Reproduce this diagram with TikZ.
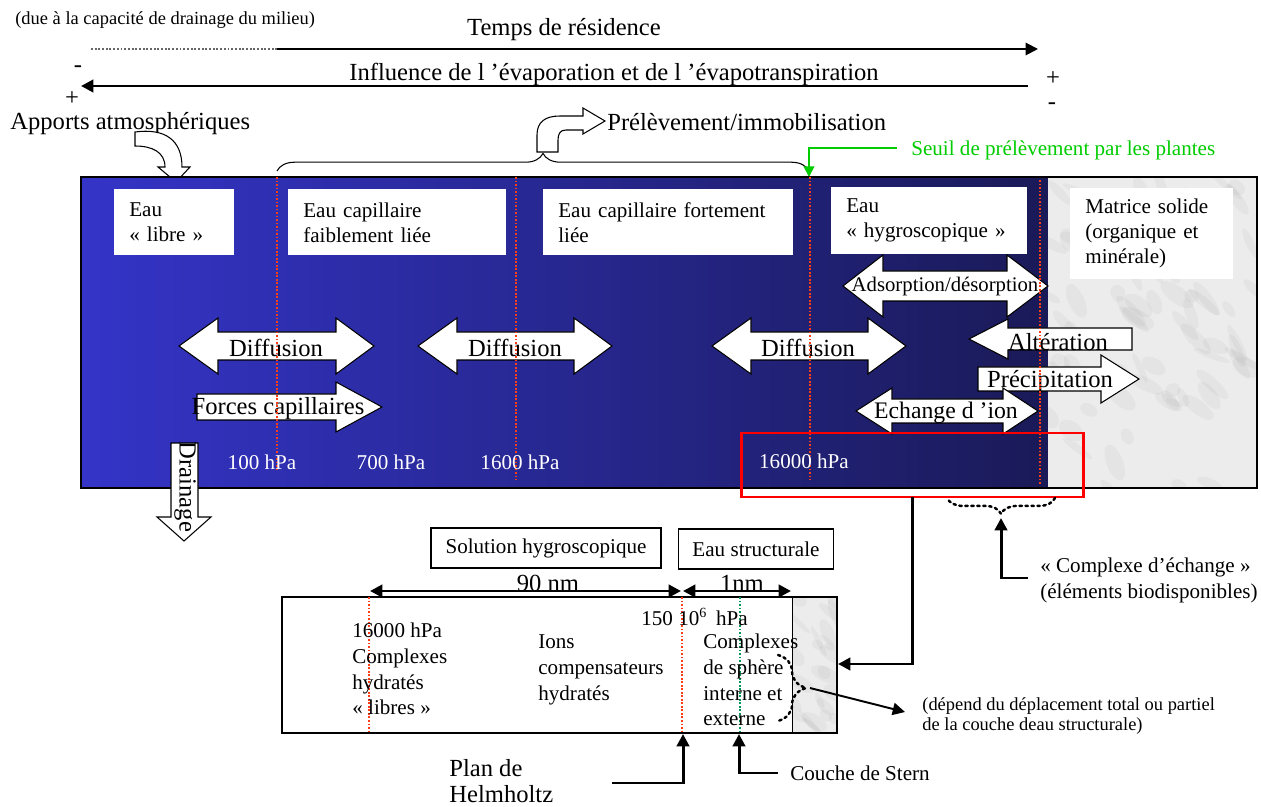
\documentclass[tikz,border=0pt]{standalone}
\usepackage{fontspec}
\setmainfont{Liberation Serif}
\usetikzlibrary{arrows.meta,decorations.pathreplacing}

\definecolor{bluel}{RGB}{52,52,200}
\definecolor{bluem}{RGB}{40,40,158}
\definecolor{bluer}{RGB}{26,26,88}
\definecolor{redsep}{RGB}{255,60,20}
\definecolor{seuilgreen}{RGB}{0,204,0}
\definecolor{sterngreen}{RGB}{0,150,90}
\definecolor{marble}{RGB}{236,236,236}

\tikzset{
  blockarrow/.style={draw=black, fill=white, line width=0.6pt, line join=miter},
  txtbig/.style={font=\fontsize{14}{16}\selectfont, inner sep=0},
  txtmid/.style={font=\fontsize{12}{14.7}\selectfont, inner sep=0, align=left},
  txtsmall/.style={font=\fontsize{10.5}{11.5}\selectfont, inner sep=0, align=left},
  wbox/.style={fill=white, inner xsep=0.3cm, inner ysep=0, anchor=north west, align=left, font=\fontsize{12}{14.2}\selectfont},
  tbox/.style={draw, line width=0.8pt, fill=white, font=\fontsize{12}{14}\selectfont},
  sepline/.style={draw=redsep, densely dotted, line width=1pt},
  fatarrow/.style={line width=1.7pt, -{Triangle[length=7pt,width=7pt]}},
  dotbrace/.style={line width=1.4pt, dotted, line cap=round, decorate},
  cloud/.style={black!50, opacity=0.07},
}

% tip L : back L : back R : tip R, y : half shaft : half head
\def\twoway(#1:#2:#3:#4)(#5:#6:#7){\draw[blockarrow] (#1,#5) -- (#2,#5-#7) -- (#2,#5-#6) -- (#3,#5-#6) -- (#3,#5-#7) -- (#4,#5) -- (#3,#5+#7) -- (#3,#5+#6) -- (#2,#5+#6) -- (#2,#5+#7) -- cycle;}
\def\rightway(#1:#2:#3)(#4:#5:#6){\draw[blockarrow] (#1,#4-#5) -- (#2,#4-#5) -- (#2,#4-#6) -- (#3,#4) -- (#2,#4+#6) -- (#2,#4+#5) -- (#1,#4+#5) -- cycle;}
\def\leftway(#1:#2:#3)(#4:#5:#6){\draw[blockarrow] (#1,#4) -- (#2,#4-#6) -- (#2,#4-#5) -- (#3,#4-#5) -- (#3,#4+#5) -- (#2,#4+#5) -- (#2,#4+#6) -- cycle;}

\begin{document}
\begin{tikzpicture}[x=0.02cm, y=-0.02cm]
		%%%%% START %%%%%
		\useasboundingbox (0,0) rectangle (1261,807);
		\pgfmathsetseed{5}
		
		\node[txtsmall, anchor=west] (capacite) at (15,20) {(due à la capacité de drainage du milieu)};
		\node[txtbig] (temps) at (564,30) {Temps de résidence};
		\draw[line width=1.1pt, densely dotted, black!60] (91,49) -- (277,49);
		\draw[line width=1.1pt, -{Triangle[length=7pt,width=7pt]}] (277,49) -- (1038,49);
		
		\node[txtbig] (influence) at (614,74) {Influence de l ’évaporation et de l ’évapotranspiration};
		\draw[fatarrow] (1028,86) -- (81,86);
		\node[txtbig] (moinsG) at (78,69) {-};
		\node[txtbig] (plusG) at (72,99) {+};
		\node[txtbig] (plusD) at (1053,79) {+};
		\node[txtbig] (moinsD) at (1052,106) {-};
		
		\node[txtbig, anchor=west] (apports) at (10,124) {Apports atmosphériques};
		\draw[blockarrow] (135,132) .. controls (165,128) and (182,140) .. (182,167) -- (190,167) -- (176,182) -- (158,167) -- (165,167) .. controls (165,152) and (152,146) .. (135,146) -- cycle;
		
		\draw[line width=0.6pt, decorate, decoration={brace, amplitude=10pt}] (277,171) -- (809,171);
		\draw[blockarrow] (537,152) -- (537,135) .. controls (537,122) and (545,116) .. (560,116) -- (583,116) -- (583,108) -- (605,121) -- (583,134) -- (583,130) -- (566,130) .. controls (560,130) and (558,134) .. (558,140) -- (558,152) -- cycle;
		\node[txtbig, anchor=west] (prelev) at (607,122) {Prélèvement/immobilisation};
		
		\node[txtmid, text=seuilgreen, anchor=west] (seuil) at (911,150) {Seuil de prélèvement par les plantes};
		\draw[line width=1.1pt, seuilgreen, -{Triangle[length=6pt,width=6pt]}] ([xshift=-0.28cm, yshift=0.04cm]seuil.west) -| (809,177);
		
		% bande principale
		\shade[left color=bluel, middle color=bluem, right color=bluer] (81,177) rectangle (1048,488);
		\fill[marble] (1048,177) rectangle (1257,488);
		\begin{scope}
			\clip (1048,177) rectangle (1257,488);
			\foreach \k in {1,...,80}
				\fill[cloud, shift={({1048+209*rnd},{177+311*rnd})}, rotate={-20-50*rnd}] (0,0) circle[x radius={(0.12+0.3*rnd)*1cm}, y radius={(0.06+0.12*rnd)*1cm}];
		\end{scope}
		\draw[line width=0.8pt] (81,177) rectangle (1257,488);
		
		\node[wbox, text width=1.8cm, minimum height=1.32cm] (libre) at (114,189) {Eau\\« libre »};
		\node[wbox, text width=3.76cm, minimum height=1.32cm] (faible) at (288,189) {Eau capillaire\\faiblement liée};
		\node[wbox, text width=4.4cm, minimum height=1.32cm] (forte) at (543,189) {Eau capillaire fortement\\liée};
		\node[wbox, text width=3.32cm, minimum height=1.34cm] (hygro) at (831,187) {Eau\\« hygroscopique »};
		\node[wbox, text width=2.66cm, minimum height=1.82cm] (matrice) at (1070,188) {Matrice solide\\(organique et\\minérale)};
		
		\twoway(179:218:336:374)(346:14:28)
		\twoway(418:457:574:612)(346:14:28)
		\twoway(712:751:868:906)(346:14:28)
		\rightway(197:336:382)(407:13:25)
		\twoway(843:883:1007:1048)(286:15:31)
		\leftway(969:1008:1132)(339:11:20)
		\rightway(978:1101:1139)(379:12:24)
		\twoway(856:892:1003:1038)(411:12:23)
		
		\node[txtbig] (diff1) at (276,348) {Diffusion};
		\node[txtbig] (diff2) at (515,348) {Diffusion};
		\node[txtbig] (diff3) at (808,348) {Diffusion};
		\node[txtbig] (forces) at (278,409) {Forces capillaires};
		\node[txtbig, font=\fontsize{11.8}{14}\selectfont] (adsorp) at (945,287) {Adsorption/désorption};
		\node[txtbig] (alter) at (1058,342) {Altération};
		\node[txtbig] (precip) at (1050,382) {Précipitation};
		\node[txtbig, font=\fontsize{13.5}{15}\selectfont] (echange) at (946,413) {Echange d ’ion};
		
		\draw[sepline] (277,177) -- (277,470);
		\draw[sepline] (516,177) -- (516,480);
		\draw[sepline] (810,177) -- (810,480);
		\draw[sepline] (1040,180) -- (1040,484);
		
		\node[txtmid, text=white] (p100) at (262,462) {100 hPa};
		\node[txtmid, text=white] (p700) at (391,462) {700 hPa};
		\node[txtmid, text=white] (p1600) at (520,462) {1600 hPa};
		\node[txtmid, text=white] (p16000) at (804,461) {16000 hPa};
		
		\draw[blockarrow] (171,443) -- (198,443) -- (198,517) -- (211,517) -- (184,541) -- (157,517) -- (171,517) -- cycle;
		\node[txtbig, rotate=-90] (drainage) at (185,487) {Drainage};
		
		\draw[red, line width=1.7pt] (741,433) rectangle (1083,497);
		
		% zoom
		\draw[fatarrow] (912,497) |- (838,664);
		\draw[dotbrace, decoration={brace, amplitude=9pt}] (1055,498) -- (947,498);
		\draw[fatarrow] (1028,578) -| (1001,518);
		\node[txtmid, anchor=west] (complexe) at (1040,580) {« Complexe d’échange »\\(éléments biodisponibles)};
		
		\node[tbox, minimum width=4.6cm, minimum height=0.8cm] (solution) at (546,548) {Solution hygroscopique};
		\node[tbox, minimum width=3.1cm, minimum height=0.8cm] (structurale) at (756,549) {Eau structurale};
		
		\draw[line width=0.8pt, fill=white] (282,597) rectangle (793,733);
		\fill[marble] (793,597) rectangle (837,733);
		\begin{scope}
			\clip (793,597) rectangle (837,733);
			\foreach \k in {1,...,25}
				\fill[cloud, shift={({793+44*rnd},{597+136*rnd})}, rotate={-20-50*rnd}] (0,0) circle[x radius={(0.1+0.25*rnd)*1cm}, y radius={(0.05+0.1*rnd)*1cm}];
		\end{scope}
		\draw[line width=0.8pt] (282,597) rectangle (837,733);
		
		\draw[sepline] (369,597) -- (369,733);
		\draw[sepline] (682,597) -- (682,733);
		\draw[draw=sterngreen, densely dotted, line width=1pt] (740,597) -- (740,733);
		
		\node[txtbig] (nm90) at (548,583) {90 nm};
		\node[txtbig] (nm1) at (742,583) {1nm};
		\draw[line width=1.7pt, {Triangle[length=7pt,width=7pt]}-{Triangle[length=7pt,width=7pt]}] (370,591) -- (681,591);
		\draw[line width=1.7pt, {Triangle[length=7pt,width=7pt]}-{Triangle[length=7pt,width=7pt]}] (683,591) -- (791,591);
		
		\node[txtmid, anchor=west] (libres) at (352,669) {16000 hPa\\Complexes\\hydratés\\« libres »};
		\node[txtmid, anchor=west] (ions) at (538,670) {Ions\\compensateurs\\hydratés};
		\node[txtmid, anchor=west] (p150) at (641,617) {150 10\textsuperscript{6}\,\ hPa};
		\node[txtmid, anchor=west] (spheres) at (703,680) {Complexes\\de sphère\\interne et\\externe};
		
		\draw[dotbrace, decoration={brace, amplitude=16pt}] (778,655) -- (778,721);
		\draw[line width=1.1pt, -{Triangle[length=7pt,width=7pt]}] (810,688) -- (905,712);
		\node[txtsmall, anchor=west] (depend) at (922,716) {(dépend du déplacement total ou partiel\\de la couche deau structurale)};
		
		\draw[fatarrow] (612,783) -| (683,734);
		\node[txtbig, anchor=west, align=left, font=\fontsize{14}{15}\selectfont] (helmholtz) at (449,781) {Plan de\\Helmholtz};
		\draw[fatarrow] (778,773) -| (739,734);
		\node[txtmid, anchor=west] (stern) at (790,773) {Couche de Stern};
		
		%%%%% END %%%%%
	\end{tikzpicture}
\end{document}
